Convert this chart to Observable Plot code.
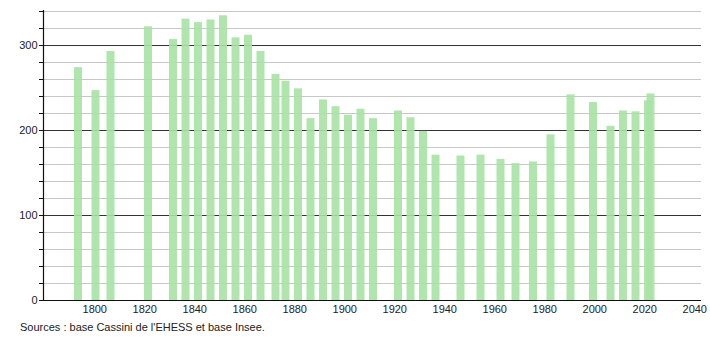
<!DOCTYPE html>
<html>
<head>
<meta charset="utf-8">
<script src="https://cdn.jsdelivr.net/npm/d3@7"></script>
<script src="https://cdn.jsdelivr.net/npm/@observablehq/plot@0.6"></script>
<style>
  body { margin: 0; background: #fff; font-family: "Liberation Sans", Arial, sans-serif; }
  #chart { position: relative; width: 710px; height: 340px; }
  #caption { position: absolute; left: 20px; top: 321px; font-size: 11px; color: #222; }
</style>
</head>
<body>
<div id="chart"></div>
<script>
const years = [1793, 1800, 1806, 1821, 1831, 1836, 1841, 1846, 1851, 1856, 1861, 1866, 1872, 1876, 1881, 1886, 1891, 1896, 1901, 1906, 1911, 1921, 1926, 1931, 1936, 1946, 1954, 1962, 1968, 1975, 1982, 1990, 1999, 2006, 2011, 2016, 2021, 2022];
const population = [274, 247, 293, 322, 307, 331, 327, 330, 335, 309, 312, 293, 266, 258, 249, 214, 236, 228, 218, 225, 214, 223, 215, 199, 171, 170, 171, 166, 161, 163, 195, 242, 233, 205, 223, 222, 235, 243];
const xTicks = [1800, 1820, 1840, 1860, 1880, 1900, 1920, 1940, 1960, 1980, 2000, 2020, 2040];
const yMajor = [0, 100, 200, 300];
const yMinor = [20, 40, 60, 80, 120, 140, 160, 180, 220, 240, 260, 280, 320, 340];

const data = years.map((y, i) => ({year: y, pop: population[i]}));

const plot = Plot.plot({
  width: 710,
  height: 318,
  marginLeft: 43,
  marginRight: 9,
  marginTop: 10,
  marginBottom: 18,
  style: {fontFamily: "Liberation Sans, Arial, sans-serif", fontSize: "11px", color: "#222", background: "#fff"},
  x: {type: "linear", domain: [1779.5, 2042.7], label: null},
  y: {type: "linear", domain: [0, 341.2], label: null},
  marks: [
    Plot.ruleY(yMinor, {stroke: "#c8c8c8", strokeWidth: 1}),
    Plot.ruleY(yMajor.filter(d => d > 0), {stroke: "#333", strokeWidth: 1}),
    Plot.rectY(data, {x1: d => d.year - 1.1, x2: d => d.year + 2.1, y1: 0, y2: "pop", fill: "#a9e2a5", fillOpacity: 0.9}),
    Plot.axisY({ticks: yMinor.concat(yMajor), tickSize: 4, tickFormat: () => "", stroke: "#111"}),
    Plot.ruleX([1779.5], {y1: 0, y2: 341.2, stroke: "#111", strokeWidth: 1.2}),
    Plot.ruleY([0], {x1: 1778, x2: 2042.7, stroke: "#111", strokeWidth: 1.2}),
    Plot.axisY({ticks: yMajor, tickSize: 0, tickPadding: 6, fill: "#222"}),
    Plot.axisX({ticks: xTicks, tickFormat: d => String(d), tickSize: 0, tickPadding: 5, fill: "#222"})
  ]
});
document.getElementById("chart").appendChild(plot);
const cap = document.createElement("div");
cap.id = "caption";
cap.textContent = "Sources : base Cassini de l'EHESS et base Insee.";
document.getElementById("chart").appendChild(cap);
</script>
</body>
</html>
